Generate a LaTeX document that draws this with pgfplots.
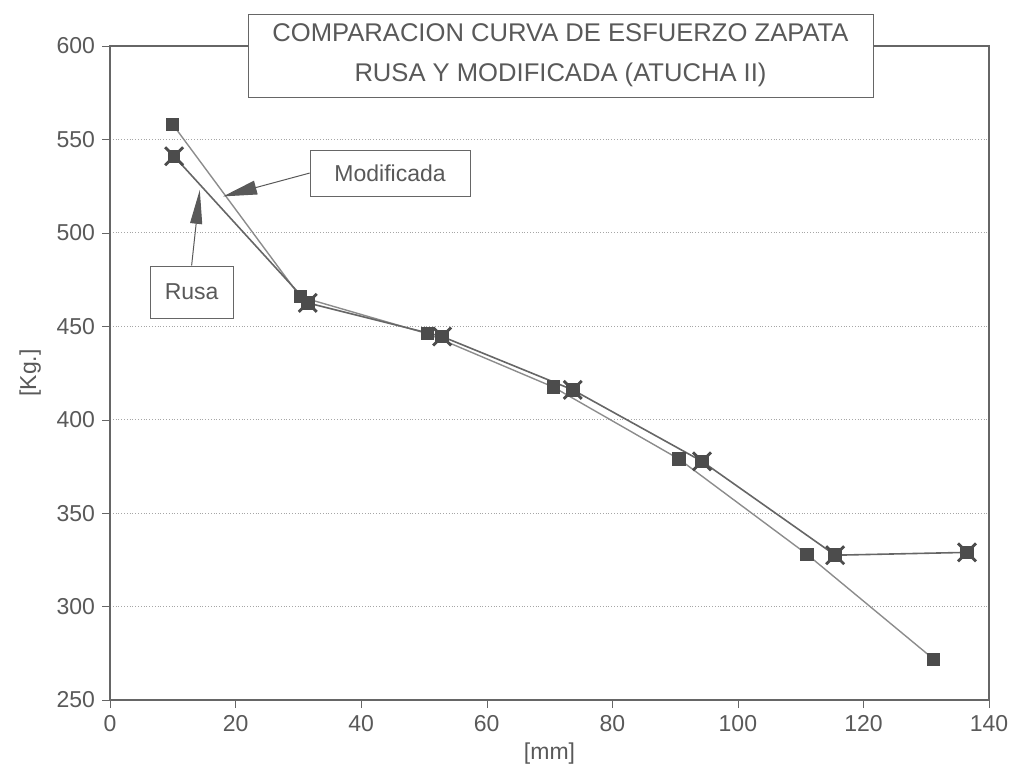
\documentclass[border=0pt]{standalone}
\usepackage{fontspec}
\setmainfont{Liberation Sans}
\usepackage{pgfplots}
\pgfplotsset{compat=1.18}
\usetikzlibrary{arrows.meta}
\definecolor{txt}{gray}{0.35}
\definecolor{lnA}{gray}{0.55}
\definecolor{lnB}{gray}{0.4}
\definecolor{mk}{gray}{0.3}
\pgfdeclareplotmark{sqx}{%
  \pgfpathrectangle{\pgfpoint{-0.6\pgfplotmarksize}{-0.6\pgfplotmarksize}}{\pgfpoint{1.2\pgfplotmarksize}{1.2\pgfplotmarksize}}%
  \pgfusepathqfillstroke
  \pgfsetlinewidth{1.4pt}%
  \pgfpathmoveto{\pgfpoint{-\pgfplotmarksize}{-\pgfplotmarksize}}\pgfpathlineto{\pgfpoint{\pgfplotmarksize}{\pgfplotmarksize}}%
  \pgfpathmoveto{\pgfpoint{-\pgfplotmarksize}{\pgfplotmarksize}}\pgfpathlineto{\pgfpoint{\pgfplotmarksize}{-\pgfplotmarksize}}%
  \pgfusepathqstroke}
\begin{document}
\begin{tikzpicture}
\path[use as bounding box] (0,0) rectangle (505pt,383.5pt);
\begin{axis}[
  at={(55pt,33.5pt)}, anchor=south west,
  scale only axis, width=439.5pt, height=327pt,
  xmin=0, xmax=140, ymin=250, ymax=600,
  xtick={0,20,...,140}, ytick={250,300,...,600},
  tick align=outside, tick pos=left,
  major tick length=4pt,
  axis line style={draw=gray!80!black, line width=0.6pt},
  tick style={draw=gray!80!black},
  ymajorgrids, grid style={densely dotted, gray!70, line width=0.5pt},
  /pgf/number format/assume math mode=true,
  /pgf/number format/1000 sep={},
  ticklabel style={font=\fontsize{11.5}{13}\selectfont, text=txt},
  xlabel={[mm]}, ylabel={[Kg.]},
  label style={font=\fontsize{11.5}{13}\selectfont, text=txt},
  xlabel style={yshift=1pt},
  ylabel style={yshift=1pt},
  clip=false,
]
% Series with squares
\addplot[color=lnA, line width=0.7pt, mark=square*, mark size=3pt,
  mark options={fill=mk, draw=mk, solid}] coordinates {
  (10,558) (30.3,465.8) (50.6,446) (70.6,417.5) (90.6,379) (111,328) (131.2,271.8)
};
% Series with starred squares
\addplot[color=lnB, line width=0.8pt, mark=sqx, mark size=4.5pt,
  mark options={fill=mk, draw=mk, line width=1pt, solid}] coordinates {
  (10.2,541) (31.5,462.5) (52.9,444.5) (73.7,416) (94.3,377.7) (115.5,327.5) (136.5,329)
};
% annotations
\node[draw=gray!80!black, fill=white, text=txt, font=\fontsize{11.5}{13}\selectfont,
  minimum width=80pt, minimum height=23pt, inner sep=2pt] (mod) at (axis cs:44.6,532) {Modificada};
\node[draw=gray!80!black, fill=white, text=txt, font=\fontsize{11.5}{13}\selectfont,
  minimum width=41.5pt, minimum height=26pt, inner sep=2pt] (rus) at (axis cs:13,468.4) {Rusa};
\draw[gray!70!black, line width=0.5pt, -{Triangle[length=17pt,width=7pt]}]
  (mod.west) -- (axis cs:18,519.5);
\draw[gray!70!black, line width=0.5pt, -{Triangle[length=17pt,width=6pt]}]
  (rus.north) -- (axis cs:14.3,523);
\end{axis}
\node[draw=gray!80!black, fill=white, text=txt, font=\fontsize{12.8}{20}\selectfont,
  minimum width=312.5pt, minimum height=41.5pt, align=center, inner sep=2pt]
  at (280.25pt,355.75pt) {COMPARACION CURVA DE ESFUERZO ZAPATA\\RUSA Y MODIFICADA (ATUCHA II)};
\end{tikzpicture}
\end{document}
